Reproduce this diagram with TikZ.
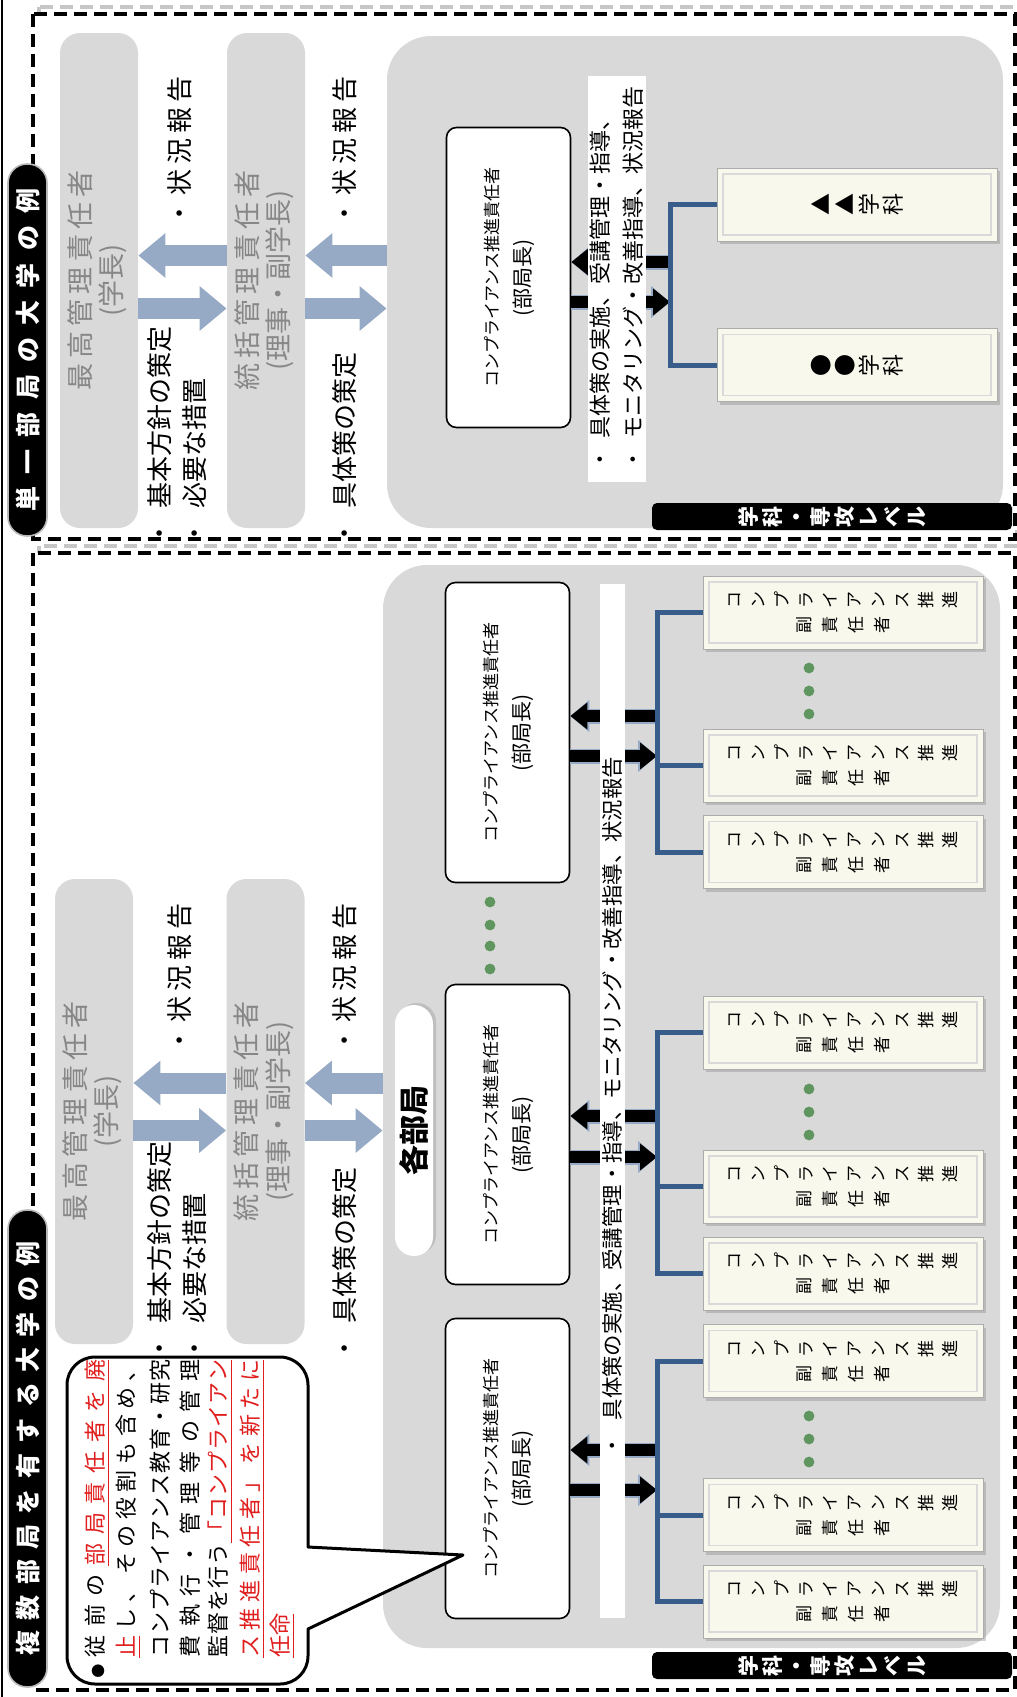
\documentclass[tikz,border=0pt]{standalone}
\usepackage{fontspec}
\setmainfont{Noto Sans CJK JP}
\usepackage{graphicx}
\usetikzlibrary{arrows.meta,shadows,positioning}

\definecolor{panelgray}{RGB}{217,217,217}
\definecolor{labelgray}{RGB}{135,135,135}
\definecolor{flowblue}{RGB}{150,170,197}
\definecolor{treeblue}{RGB}{56,93,138}
\definecolor{unitcream}{RGB}{249,248,236}
\definecolor{notered}{RGB}{225,30,30}
\definecolor{dotgreen}{RGB}{95,150,95}

\makeatletter
% one column of upright characters (tategaki)
\newcommand\tate[2][1.2em]{\vbox{\baselineskip=#1\lineskiplimit=-\maxdimen\tate@loop#2\relax}}
\def\tate@loop#1{\ifx\relax#1\else\hbox to 1em{\hss#1\hss}\expandafter\tate@loop\fi}
% characters spread over the box width
\newcommand\jl[1]{\jl@loop#1\relax}
\def\jl@loop#1#2{#1\ifx\relax#2\expandafter\@gobble\else\hfil\expandafter\@firstofone\fi{\jl@loop#2}}
% same, underlined
\newcommand\ju[1]{\ju@loop#1\relax}
\def\ju@loop#1#2{\ul@char{#1}\ifx\relax#2\expandafter\@gobble\else\ul@glue\expandafter\@firstofone\fi{\ju@loop#2}}
\def\ul@char#1{\setbox\z@\hbox{#1}\rlap{\vrule height-2.3pt depth2.9pt width\wd\z@}\box\z@}
\def\ul@glue{\leaders\hrule height-2.3pt depth2.9pt\hfil}
\makeatother

\newcommand\toptext{\rotatebox{90}{\begin{tabular}{@{}c@{}}\hbox to 110pt{\jl{最高管理責任者}}\\(学長)\end{tabular}}}
\newcommand\midtext{\rotatebox{90}{\begin{tabular}{@{}c@{}}\hbox to 110pt{\jl{統括管理責任者}}\\(理事・副学長)\end{tabular}}}
\newcommand\resptext{\rotatebox{90}{\fontsize{10}{16}\selectfont\begin{tabular}{@{}c@{}}{\fontsize{8.5}{10}\selectfont コンプライアンス推進責任者}\\{\fontsize{10.5}{12}\selectfont (部局長)}\end{tabular}}}
\newcommand\vicechief{\rotatebox{90}{$\vcenter{\tate[13pt]{副責任者}}\hspace{4pt}\vcenter{\tate[12pt]{コンプライアンス推進}}$}}

\tikzset{
  frame/.style={draw=black, fill=white, line width=2pt, dash pattern=on 6.5pt off 3.5pt},
  frameshadow/.style={draw=gray!45, line width=2pt, dash pattern=on 6.5pt off 3.5pt},
  panel/.style={fill=panelgray, rounded corners=22pt, inner sep=0pt},
  rolebox/.style={fill=panelgray, rounded corners=10pt, inner sep=0pt, minimum width=39pt,
    text=labelgray, font=\fontsize{13.5}{15}\selectfont},
  respbox/.style={draw=black, line width=0.8pt, fill=white, rounded corners=5pt,
    minimum width=62pt, minimum height=150pt, inner sep=0pt},
  strip/.style={fill=white, inner sep=0pt},
  unitbox/.style={fill=unitcream, draw=gray!65, minimum width=140pt, minimum height=36.5pt,
    inner sep=0pt, font=\fontsize{8.5}{10}\selectfont,
    drop shadow={shadow xshift=1.5pt, shadow yshift=-1.5pt, opacity=0.35},
    path picture={\draw[gray!30, line width=0.6pt]
      ([shift={(3pt,-3pt)}]path picture bounding box.north west) rectangle
      ([shift={(-3pt,3pt)}]path picture bounding box.south east);}},
  levelbar/.style={fill=black, rounded corners=2.5pt, minimum width=180pt, minimum height=13.5pt,
    inner sep=0pt, text=white, font=\fontsize{10.5}{12}\selectfont\bfseries},
  titlepill/.style={fill=black, draw=gray!55, line width=0.8pt, rounded corners=9.5pt,
    minimum width=19.5pt, inner sep=0pt, text=white, font=\fontsize{12.5}{14}\selectfont\bfseries},
  hqpill/.style={fill=white, rounded corners=9.5pt, minimum width=19pt, minimum height=125.5pt,
    inner sep=0pt, font=\fontsize{15}{17}\selectfont\bfseries,
    drop shadow={shadow xshift=1.5pt, shadow yshift=1pt, opacity=0.3}},
  flow/.style={draw=flowblue, line width=10.5pt, -{Triangle[length=13.5pt, width=21.5pt]}},
  blk/.style={draw=black, line width=6pt, -{Triangle[length=8.5pt, width=13pt]},
    preaction={draw=flowblue, line width=7.5pt, -{Triangle[length=9.5pt, width=15.5pt]}}},
  tree/.style={draw=treeblue, line width=2.5pt},
  lbl/.style={rotate=90, anchor=west, inner sep=0pt, font=\fontsize{13}{15}\selectfont},
  tasktxt/.style={rotate=90, anchor=west, inner sep=0pt, font=\fontsize{11}{13}\selectfont},
  notetxt/.style={rotate=90, anchor=west, inner sep=0pt, font=\fontsize{11}{13}\selectfont},
  bubble/.style={draw=black, fill=white, line width=1.5pt, line join=round}
}

\begin{document}
\begin{tikzpicture}[x=0.5pt, y=-0.5pt]
    \useasboundingbox (0,0) rectangle (1017,1697);
    \draw[line width=1pt] (1.5,0) -- (1.5,1697);

    % dashed frames
    \draw[frameshadow] (39,7) rectangle (1021,532);
    \draw[frame] (33,14) rectangle (1015,539);
    \draw[frameshadow] (39,546) rectangle (1021,1683);
    \draw[frame] (33,553) rectangle (1015,1690);

    % gray areas
    \node[panel, minimum width=308pt, minimum height=246pt] (uArea) at (695,282) {};
    \node[panel, minimum width=308.5pt, minimum height=541.5pt] (lArea) at (691.5,1106.5) {};

    % single department
    \node[rolebox, minimum height=247.5pt] (uTop) at (99,280.5) {\toptext};
    \node[rolebox, minimum height=247.5pt] (uMid) at (266,280.5) {\midtext};

    \coordinate (uUp) at (0,255.5);
    \coordinate (uDown) at (0,308.5);
    \draw[flow] (uMid.west |- uUp) -- (uTop.east |- uUp);
    \draw[flow] (uTop.east |- uDown) -- (uMid.west |- uDown);
    \draw[flow] (uArea.west |- uUp) -- (uMid.east |- uUp);
    \draw[flow] (uMid.east |- uDown) -- (uArea.west |- uDown);

    \node[lbl] (uRepA) at (180,227) {・\hspace{0.2em}\hbox to 59.5pt{\jl{状況報告}}};
    \node[lbl] (uPolA) at (160,547) {・\hspace{0.45em}基本方針の策定};
    \node[lbl] (uPolB) at (195,547) {・\hspace{0.45em}必要な措置};
    \node[lbl] (uRepB) at (345,227) {・\hspace{0.2em}\hbox to 59.5pt{\jl{状況報告}}};
    \node[lbl] (uPolC) at (345,547) {・\hspace{0.45em}具体策の策定};

    \node[respbox] (uResp) at (508.5,277.5) {\resptext};

    \coordinate (uTrunk) at (670,0);
    \coordinate (uIn) at (0,262);
    \coordinate (uOut) at (0,302);
    \draw[blk] (uTrunk |- uIn) -- (uResp.east |- uIn);
    \draw[blk] (uResp.east |- uOut) -- (uTrunk |- uOut);

    \node[strip, minimum width=29pt, minimum height=203pt] (uStrip) at (617,279) {};
    \node[tasktxt] (uTaskA) at (600,471) {・\hspace{0.45em}具体策の実施、受講管理・指導、};
    \node[tasktxt] (uTaskB) at (633,471) {・\hspace{0.45em}モニタリング・改善指導、状況報告};

    \node[unitbox, font=\fontsize{11}{12}\selectfont] (uDeptA) at (857,204.5) {\rotatebox{90}{\tate[12pt]{▲▲学科}}};
    \node[unitbox, font=\fontsize{11}{12}\selectfont] (uDeptB) at (857,365) {\rotatebox{90}{\tate[12pt]{●●学科}}};
    \draw[tree] (uDeptA.west) -| (uTrunk |- uDeptB.west) -- (uDeptB.west);

    \node[levelbar] (uLevel) at (832,516.5) {\rotatebox{90}{\tate[12pt]{学科・専攻レベル}}};

    % several departments
    \node[rolebox, minimum height=232.5pt] (lTop) at (94,1111.5) {\toptext};
    \node[rolebox, minimum height=232.5pt] (lMid) at (265.5,1111.5) {\midtext};

    \coordinate (lUp) at (0,1083);
    \coordinate (lDown) at (0,1130.5);
    \draw[flow] (lMid.west |- lUp) -- (lTop.east |- lUp);
    \draw[flow] (lTop.east |- lDown) -- (lMid.west |- lDown);
    \draw[flow] (lArea.west |- lUp) -- (lMid.east |- lUp);
    \draw[flow] (lMid.east |- lDown) -- (lArea.west |- lDown);

    \node[lbl] (lRepA) at (180,1054) {・\hspace{0.2em}\hbox to 59.5pt{\jl{状況報告}}};
    \node[lbl] (lPolA) at (160,1362) {・\hspace{0.45em}基本方針の策定};
    \node[lbl] (lPolB) at (195,1362) {・\hspace{0.45em}必要な措置};
    \node[lbl] (lRepB) at (345,1054) {・\hspace{0.2em}\hbox to 59.5pt{\jl{状況報告}}};
    \node[lbl] (lPolC) at (345,1362) {・\hspace{0.45em}具体策の策定};

    \node[hqpill] (lHQ) at (414,1130.5) {\rotatebox{90}{各部局}};

    \foreach \g/\y in {A/732.5, B/1134.5, C/1468.5}
        \node[respbox] (resp\g) at (507.5,\y) {\resptext};
    \foreach \y in {902,925,946,969}
        \fill[dotgreen] (490,\y) circle (2.7pt);

    \coordinate (lTrunk) at (657,0);
    \foreach \g/\u/\d in {A/716/756, B/1116/1157, C/1450/1490} {
        \coordinate (in\g) at (0,\u);
        \coordinate (out\g) at (0,\d);
        \draw[blk] (lTrunk |- in\g) -- (resp\g.east |- in\g);
        \draw[blk] (resp\g.east |- out\g) -- (lTrunk |- out\g);
    }

    \node[strip, minimum width=12.5pt, minimum height=517pt] (lStrip) at (612.5,1101) {};
    \node[tasktxt, font=\fontsize{10.7}{12}\selectfont] (lTask) at (612,1457)
        {・\hspace{0.7em}具体策の実施、受講管理・指導、モニタリング・改善指導、状況報告};

    \foreach \n/\y in {1/612.5, 2/765.5, 3/852, 4/1032.5, 5/1186.5, 6/1273.5, 7/1361, 8/1515, 9/1601.5}
        \node[unitbox] (unit\n) at (843,\y) {\vicechief};
    \foreach \a/\b/\c in {1/2/3, 4/5/6, 7/8/9} {
        \draw[tree] (unit\a.west) -| (lTrunk |- unit\c.west) -- (unit\c.west);
        \draw[tree] (unit\b.west) -- (lTrunk |- unit\b.west);
    }
    \foreach \y in {668,691,714,1089,1112,1135,1416,1439,1462}
        \fill[dotgreen] (809,\y) circle (2.7pt);

    \node[levelbar] (lLevel) at (832,1665.5) {\rotatebox{90}{\tate[12pt]{学科・専攻レベル}}};

    % titles
    \node[titlepill, minimum height=186pt] (uTitle) at (27.5,350)
        {\rotatebox{90}{\hbox to 161.5pt{\jl{単一部局の大学の例}}}};
    \node[titlepill, minimum height=238.5pt] (lTitle) at (27.5,1448.5)
        {\rotatebox{90}{\hbox to 207pt{\jl{複数部局を有する大学の例}}}};

    % callout
    \draw[bubble] (67,1520) [rounded corners=14pt] -- (67,1357) -- (308,1357) -- (308,1450)
        [sharp corners] -- (308,1547) -- (463,1555) -- (308,1629)
        [rounded corners=14pt] -- (308,1684) -- (67,1684) -- cycle;
    \node[inner sep=0pt, font=\fontsize{7}{8}\selectfont] (noteDot) at (98,1671) {●};
    \node[notetxt] (noteA) at (97,1658) {\hbox to 149pt{\jl{従前の}\hfil{\color{notered}\ju{部局責任者を廃}}}};
    \node[notetxt] (noteB) at (128,1658) {\hbox to 149pt{{\color{notered}\ju{止}}\hfil\jl{し、その役割も含め、}}};
    \node[notetxt] (noteC) at (160,1658) {\hbox to 149pt{\jl{コンプライアンス教育・研究}}};
    \node[notetxt] (noteD) at (190,1658) {\hbox to 149pt{\jl{費執行・管理等の管理}}};
    \node[notetxt] (noteE) at (220,1658) {\hbox to 149pt{\jl{監督を行う}\hfil{\color{notered}\ju{「コンプライアン}}}};
    \node[notetxt] (noteF) at (252,1658) {\hbox to 149pt{{\color{notered}\ju{ス推進責任者」を新たに}}}};
    \node[notetxt] (noteG) at (282,1658) {\hbox{\color{notered}\ju{任命}}};
\end{tikzpicture}
\end{document}
